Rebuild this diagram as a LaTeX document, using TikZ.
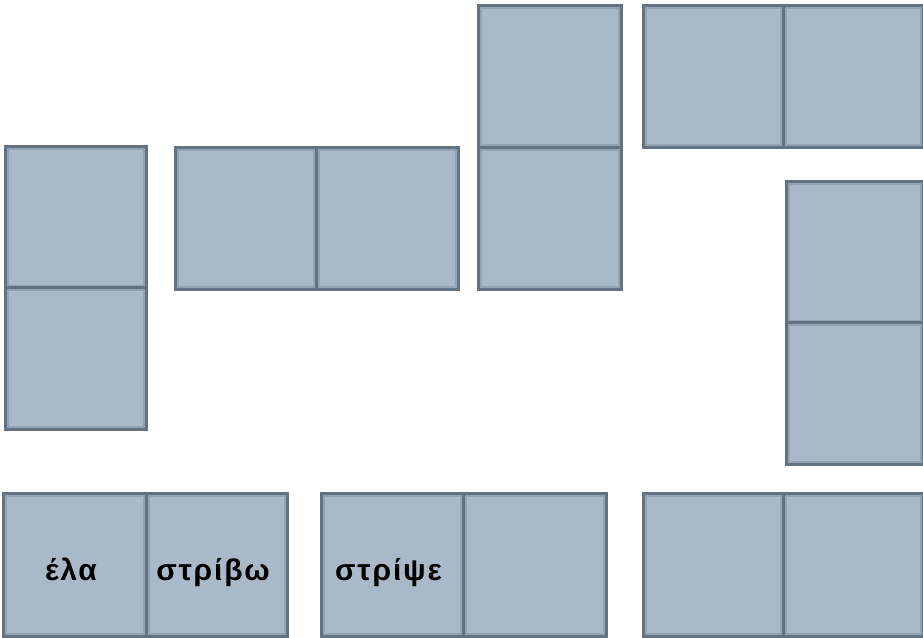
\documentclass[tikz,border=0pt]{standalone}
\usepackage{fontspec}
\setmainfont{Liberation Sans}
\definecolor{tilefill}{RGB}{170,185,201}
\definecolor{tileedge}{RGB}{100,115,131}
\definecolor{tileinner}{RGB}{148,163,179}
\newcommand{\tiletext}[1]{#1\kern7pt}
\begin{document}
\begin{tikzpicture}[x=1pt,y=1pt,
  sq/.style={rectangle, inner sep=0pt, fill=tilefill, draw=tileedge, line width=3pt,
    minimum width=141pt, minimum height=142pt,
    font=\fontsize{30}{33}\selectfont\bfseries\addfontfeatures{LetterSpace=6},
    text height=31pt, text depth=0pt,
    path picture={\draw[tileinner, line width=2pt]
      ([shift={(2.5pt,2.5pt)}]path picture bounding box.south west) rectangle
      ([shift={(-2.5pt,-2.5pt)}]path picture bounding box.north east);}}]
\useasboundingbox (0,0) rectangle (923,637);
% left vertical domino
\node[sq] (t1a) at (75.5,419.5) {};
\node[sq] (t1b) at (75.5,278) {};
% horizontal domino
\node[sq] (t2a) at (245.5,418.5) {};
\node[sq, minimum width=142pt] (t2b) at (387,418.5) {};
% middle vertical domino
\node[sq, minimum width=143pt] (t3a) at (549.5,560) {};
\node[sq, minimum width=143pt] (t3b) at (549.5,418) {};
% top-right horizontal domino
\node[sq, minimum width=140pt] (t4a) at (713,560.5) {};
\node[sq, minimum width=140pt] (t4b) at (853,560.5) {};
% right vertical domino
\node[sq, minimum width=137pt] (t5a) at (854.5,384.5) {};
\node[sq, minimum width=137pt] (t5b) at (854.5,243) {};
% bottom row
\node[sq, minimum width=143pt] (b1a) at (74.5,72) {\tiletext{έλα}};
\node[sq] (b1b) at (216.5,72) {\tiletext{στρίβω}};
\node[sq, minimum width=142pt] (b2a) at (392,72) {\tiletext{στρίψε}};
\node[sq, minimum width=143pt] (b2b) at (534.5,72) {};
\node[sq, minimum width=140pt] (b3a) at (713,72) {};
\node[sq, minimum width=140pt] (b3b) at (853,72) {};
\end{tikzpicture}
\end{document}
